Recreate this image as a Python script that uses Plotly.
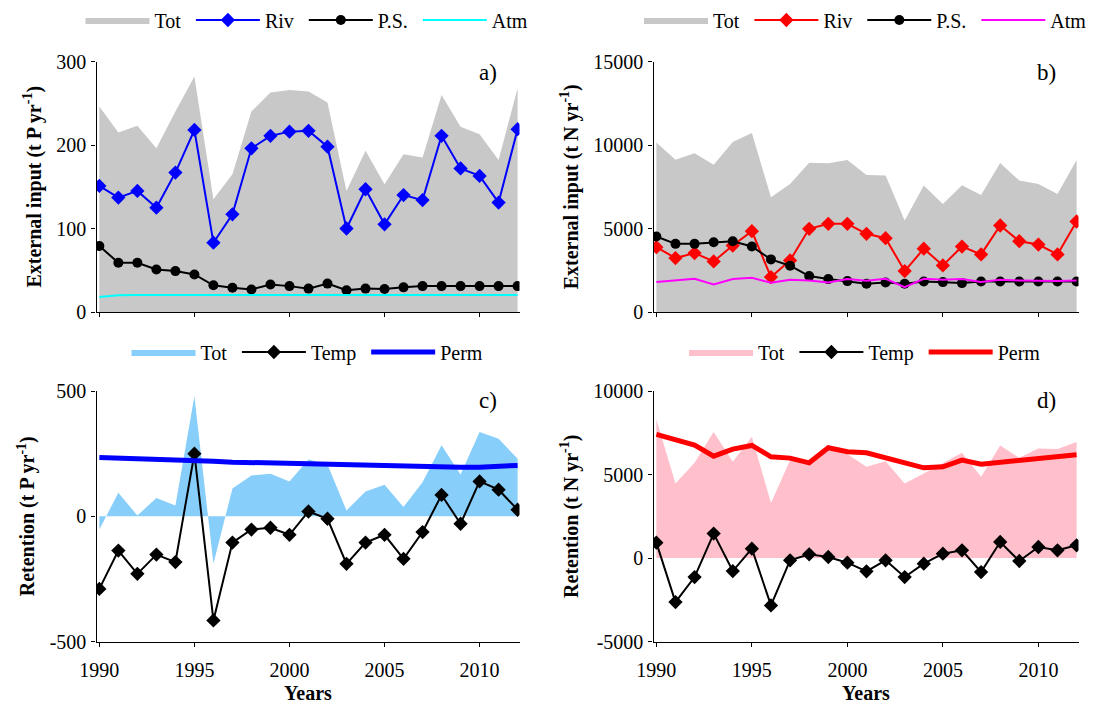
import plotly.graph_objects as go

years = list(range(1990, 2013))

# Panel a) phosphorus external input (t P yr-1)
p_tot = [246, 215, 223, 196, 240, 282, 135, 165, 240, 263, 266, 264, 251, 145, 193, 153, 189, 185, 260, 222, 213, 182, 268]
p_riv = [151, 137, 145, 125, 167, 218, 83, 117, 196, 211, 216, 217, 198, 100, 147, 105, 140, 134, 211, 172, 163, 131, 219]
p_ps = [79, 59, 59, 51, 49, 45, 32, 29, 27, 33, 31, 28, 34, 26, 28, 27.5, 29.5, 31, 31, 31, 31, 31, 31]
p_atm = [18, 20, 20.5, 20.5, 20.5, 20.5, 20.5, 20.5, 20.5, 20.5, 20.5, 20.5, 20.5, 20.5, 20.5, 20.5, 20.5, 20.5, 20.5, 20.5, 20.5, 20.5, 20.5]

# Panel b) nitrogen external input (t N yr-1)
n_tot = [10150, 9120, 9500, 8820, 10180, 10720, 6870, 7670, 8940, 8900, 9100, 8210, 8170, 5480, 7570, 6470, 7590, 7010, 8920, 7870, 7670, 7070, 9100]
n_riv = [3880, 3230, 3530, 3030, 3980, 4840, 2090, 3090, 4980, 5280, 5280, 4680, 4420, 2450, 3790, 2790, 3920, 3450, 5180, 4240, 4040, 3450, 5420]
n_ps = [4520, 4080, 4080, 4180, 4240, 3920, 3150, 2770, 2150, 1970, 1850, 1690, 1770, 1690, 1830, 1790, 1730, 1830, 1830, 1830, 1830, 1830, 1830]
n_atm = [1790, 1870, 1990, 1650, 1970, 2050, 1750, 1930, 1890, 1770, 1970, 1870, 1990, 1490, 1990, 1930, 1970, 1790, 1930, 1890, 1850, 1850, 1890]

# Panel c) phosphorus retention (t P yr-1)
rp_tot = [-53, 94, 3, 73, 43, 479, -190, 111, 163, 170, 139, 227, 207, 23, 99, 126, 37, 136, 283, 167, 336, 309, 230]
rp_temp = [-290, -137, -230, -153, -183, 250, -416, -105, -53, -46, -74, 19, -10, -190, -105, -74, -170, -63, 85, -30, 139, 106, 26]
rp_perm = [235, 233, 230, 227, 225, 223, 220, 216, 214, 214, 212, 210, 210, 207, 204, 203, 200, 197, 196, 196, 196, 199, 203]

# Panel d) nitrogen retention (t N yr-1)
rn_tot = [8300, 4460, 5700, 7540, 5760, 7260, 3300, 5860, 5800, 6500, 6220, 5460, 5800, 4460, 5060, 5660, 6300, 4860, 6740, 6000, 6560, 6520, 6940]
rn_temp = [920, -2640, -1140, 1460, -780, 560, -2840, -140, 220, 60, -280, -800, -140, -1140, -340, 260, 460, -840, 960, -180, 660, 460, 760]
rn_perm = [7400, 7060, 6760, 6100, 6520, 6740, 6060, 5980, 5700, 6600, 6360, 6300, 6000, 5660, 5400, 5460, 5860, 5620, 5740, 5860, 5920, 6080, 6180]

x_ticks = [1990, 1995, 2000, 2005, 2010]
ya_ticks = [0, 100, 200, 300]
yb_ticks = [0, 5000, 10000, 15000]
yc_ticks = [-500, 0, 500]
yd_ticks = [-5000, 0, 5000, 10000]

FONT = "Liberation Serif"
W, H = 1098, 704
BODY = 8  # page body margin of the browser
SP = "\u00a0"

fig = go.Figure()

def add_panel(xa, ya, leg, tot, tot_color, series):
    fig.add_trace(go.Scatter(x=years, y=tot, name="Tot" + SP, mode="lines", fill="tozeroy",
                             fillcolor=tot_color, line=dict(width=0, color=tot_color),
                             xaxis=xa, yaxis=ya, legend=leg))
    for s in series:
        fig.add_trace(go.Scatter(x=years, y=s["y"], name=s["name"] + SP, mode=s["mode"],
                                 line=dict(color=s["color"], width=s["width"]),
                                 marker=dict(symbol=s.get("symbol", "circle"), size=s.get("size", 10),
                                             color=s["color"]),
                                 xaxis=xa, yaxis=ya, legend=leg))

add_panel("x", "y", "legend", p_tot, "#c8c8c8", [
    dict(y=p_riv, name="Riv", mode="lines+markers", color="#0000ff", width=2, symbol="diamond", size=11),
    dict(y=p_ps, name="P.S.", mode="lines+markers", color="#000000", width=2, symbol="circle", size=10),
    dict(y=p_atm, name="Atm", mode="lines", color="#00ffff", width=2),
])
add_panel("x2", "y2", "legend2", n_tot, "#c8c8c8", [
    dict(y=n_riv, name="Riv", mode="lines+markers", color="#ff0000", width=2, symbol="diamond", size=11),
    dict(y=n_ps, name="P.S.", mode="lines+markers", color="#000000", width=2, symbol="circle", size=10),
    dict(y=n_atm, name="Atm", mode="lines", color="#ff00ff", width=2),
])
add_panel("x3", "y3", "legend3", rp_tot, "#87cefa", [
    dict(y=rp_temp, name="Temp", mode="lines+markers", color="#000000", width=2, symbol="diamond", size=11),
    dict(y=rp_perm, name="Perm", mode="lines", color="#0000ff", width=5),
])
add_panel("x4", "y4", "legend4", rn_tot, "#ffc0cb", [
    dict(y=rn_temp, name="Temp", mode="lines+markers", color="#000000", width=2, symbol="diamond", size=11),
    dict(y=rn_perm, name="Perm", mode="lines", color="#ff0000", width=5),
])

def px_x(p):
    return (p - BODY) / W

def px_y(p):
    return 1 - (p - BODY) / H

left_dom = [px_x(96.5), px_x(519.5)]
right_dom = [px_x(653.5), px_x(1078.5)]
top_dom = [px_y(312), px_y(61.5)]
bot_dom = [px_y(641.5), px_y(391)]

tickfont = dict(family=FONT, size=20, color="black")
titlefont = dict(family=FONT, size=20, color="black")

def xaxis(dom, anchor, labels):
    d = dict(domain=dom, anchor=anchor, range=[1989.85, 2012.1], tickvals=x_ticks,
             ticks="outside", ticklen=4, tickwidth=1, tickcolor="black",
             showline=True, linecolor="black", linewidth=1.3, automargin=False,
             showgrid=False, zeroline=False, showticklabels=labels, tickfont=tickfont,
             ticklabelstandoff=6)
    if labels:
        d["title"] = dict(text="<b>Years</b>", font=titlefont, standoff=6)
    return d

def yaxis(dom, anchor, rng, ticks, title):
    return dict(domain=dom, anchor=anchor, range=rng, tickvals=ticks,
                ticktext=[str(t) for t in ticks],
                ticks="outside", ticklen=4, tickwidth=1, tickcolor="black",
                showline=True, linecolor="black", linewidth=1.3, automargin=False,
                showgrid=False, zeroline=False, tickfont=tickfont, ticklabelstandoff=1,
                title=dict(text="<b>" + title + "</b>", font=titlefont, standoff=9))

legend_common = dict(orientation="h", font=dict(family=FONT, size=20, color="black"),
                     bgcolor="rgba(0,0,0,0)", yanchor="middle", xanchor="left",
                     itemwidth=64, tracegroupgap=0, borderwidth=0)

fig.update_layout(
    width=W, height=H,
    margin=dict(l=0, r=0, t=0, b=0, autoexpand=False),
    paper_bgcolor="white", plot_bgcolor="white",
    font=dict(family=FONT, size=20, color="black"),
    xaxis=xaxis(left_dom, "y", False),
    yaxis=yaxis(top_dom, "x", [0, 300], ya_ticks, "External input (t P yr<sup>-1</sup>)"),
    xaxis2=xaxis(right_dom, "y2", False),
    yaxis2=yaxis(top_dom, "x2", [0, 15000], yb_ticks, "External input (t N yr<sup>-1</sup>)"),
    xaxis3=xaxis(left_dom, "y3", True),
    yaxis3=yaxis(bot_dom, "x3", [-500, 500], yc_ticks, "Retention (t P yr<sup>-1</sup>)"),
    xaxis4=xaxis(right_dom, "y4", True),
    yaxis4=yaxis(bot_dom, "x4", [-5000, 10000], yd_ticks, "Retention (t N yr<sup>-1</sup>)"),
    legend=dict(legend_common, x=px_x(80.5), y=px_y(20)),
    legend2=dict(legend_common, x=px_x(639), y=px_y(20)),
    legend3=dict(legend_common, x=px_x(126.5), y=px_y(352)),
    legend4=dict(legend_common, x=px_x(684), y=px_y(352)),
    showlegend=True,
)

for xr, yr, lab, yy in [("x", "y", "a)", 0.958), ("x2", "y2", "b)", 0.958),
                        ("x3", "y3", "c)", 0.962), ("x4", "y4", "d)", 0.962)]:
    fig.add_annotation(text=lab, xref=xr + " domain", yref=yr + " domain", x=0.925, y=yy,
                       showarrow=False, xanchor="center", yanchor="middle",
                       font=dict(family=FONT, size=23, color="black"))

fig.write_html("out.html")
